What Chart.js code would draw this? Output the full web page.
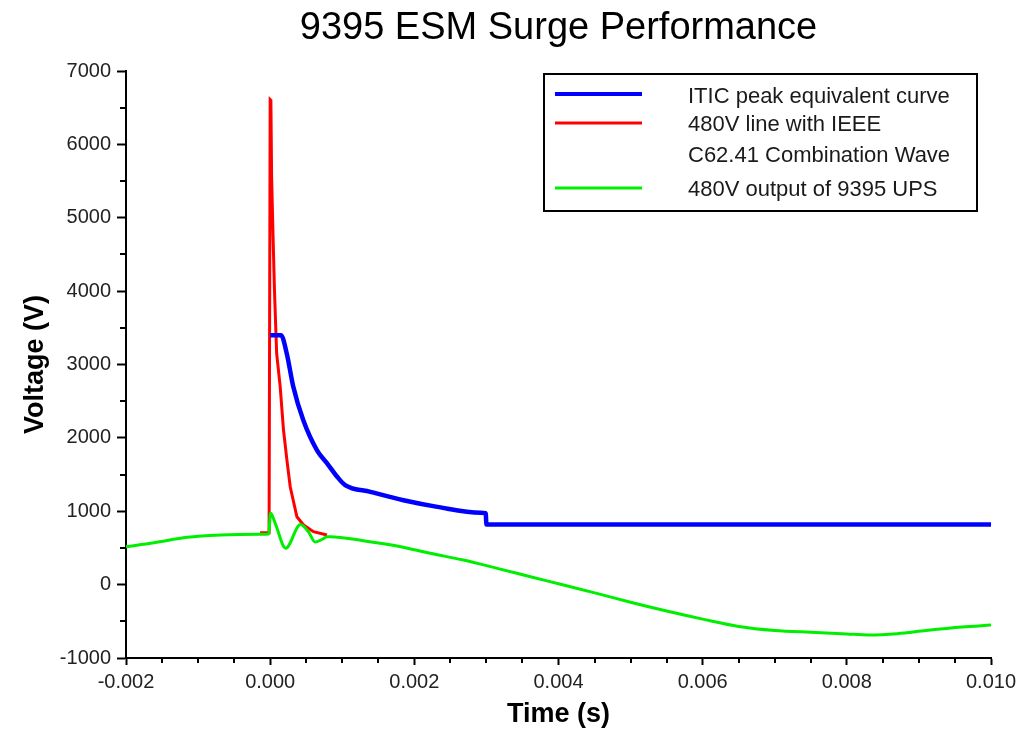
<!DOCTYPE html>
<html>
<head>
<meta charset="utf-8">
<script src="https://cdn.jsdelivr.net/npm/chart.js@4.4.1/dist/chart.umd.min.js"></script>
<style>
  html, body { margin: 0; padding: 0; background: #fff; }
  #wrap { width: 1017px; height: 731px; }
</style>
</head>
<body>
<div id="wrap"><canvas id="surgeChart" width="1017" height="731"></canvas></div>
<script>
// ITIC peak equivalent curve (time s, voltage V)
const iticTime = [0, 0.00015, 0.00023, 0.00032, 0.00046, 0.00065, 0.00080, 0.00093, 0.00104, 0.00139, 0.00185, 0.00232, 0.00292, 0.00299, 0.00300, 0.0100];
const iticVolt = [3400, 3400, 3150, 2700, 2240, 1830, 1640, 1470, 1357, 1265, 1150, 1060, 980, 975, 820, 820];

// 480V line with IEEE C62.41 combination wave
const surgeTime = [-0.00014, -0.000015, 0, 0.00001, 0.00002, 0.00004, 0.00006, 0.00009, 0.000139, 0.000185, 0.000232, 0.000278, 0.000371, 0.000463, 0.000601, 0.000788];
const surgeVolt = [708, 708, 6610, 6600, 5560, 4750, 4000, 3150, 2700, 2107, 1700, 1334, 925, 812, 721, 676];

// 480V output of 9395 UPS
const upsTime = [-0.002, -0.00161, -0.00115, -0.00069, -0.00014, -0.00002, 0.000005, 0.00007, 0.000215, 0.00042, 0.00053, 0.000625, 0.00072, 0.00079, 0.00083, 0.00129, 0.00176, 0.00222, 0.00268, 0.00315, 0.00361, 0.00407, 0.00453, 0.0050, 0.0055, 0.0060, 0.0065, 0.0070, 0.0075, 0.0080, 0.0083, 0.0087, 0.0091, 0.0096, 0.0100];
const upsVolt = [517, 571, 645, 676, 686, 690, 975, 835, 495, 820, 721, 580, 617, 653, 653, 599, 526, 427, 335, 222, 108, -5, -119, -240, -360, -470, -570, -625, -650, -672, -685, -668, -625, -578, -550];

const legendLines = [
  ["ITIC peak equivalent curve"],
  ["480V line with IEEE", "C62.41 Combination Wave"],
  ["480V output of 9395 UPS"]
];

const FONT = "'Liberation Sans', Arial, sans-serif";

const toPoints = (xs, ys) => xs.map((x, i) => ({ x: x, y: ys[i] }));

// minor tick marks + boxed legend
const extras = {
  id: 'extras',
  afterDraw(chart) {
    const ctx = chart.ctx;
    const xs = chart.scales.x, ys = chart.scales.y;
    const area = chart.chartArea;
    ctx.save();
    ctx.strokeStyle = '#000';
    ctx.lineWidth = 2;
    ctx.beginPath();
    for (let i = 0; i <= 24; i++) {
      if (i % 4 === 0) continue;
      const px = Math.round(xs.getPixelForValue(-0.002 + i * 0.0005));
      ctx.moveTo(px, area.bottom);
      ctx.lineTo(px, area.bottom + 5);
    }
    for (let i = 0; i <= 16; i++) {
      if (i % 2 === 0) continue;
      const py = Math.round(ys.getPixelForValue(-1000 + i * 500));
      ctx.moveTo(area.left - 6, py);
      ctx.lineTo(area.left, py);
    }
    ctx.stroke();

    // legend box
    const bx = 544, by = 74, bw = 433, bh = 137;
    ctx.fillStyle = '#fff';
    ctx.fillRect(bx, by, bw, bh);
    ctx.strokeRect(bx, by, bw, bh);
    const rows = [
      { line: 94, text: [97] },
      { line: 123, text: [125, 156] },
      { line: 188, text: [190] }
    ];
    ctx.font = '22px ' + FONT;
    ctx.textBaseline = 'middle';
    ctx.textAlign = 'left';
    rows.forEach((r, i) => {
      const ds = chart.data.datasets[i];
      ctx.strokeStyle = ds.borderColor;
      ctx.lineWidth = i === 0 ? 4 : 3;
      ctx.beginPath();
      ctx.moveTo(555, r.line);
      ctx.lineTo(642, r.line);
      ctx.stroke();
      ctx.fillStyle = '#1a1a1a';
      legendLines[i].forEach((t, j) => ctx.fillText(t, 688, r.text[j]));
    });
    ctx.restore();
  }
};

new Chart(document.getElementById('surgeChart').getContext('2d'), {
  type: 'line',
  data: {
    datasets: [
      {
        label: legendLines[0].join(' '),
        data: toPoints(iticTime, iticVolt),
        borderColor: '#0000ff',
        borderWidth: 4.5,
        cubicInterpolationMode: 'monotone',
        order: 2
      },
      {
        label: legendLines[1].join(' '),
        data: toPoints(surgeTime, surgeVolt),
        borderColor: '#ff0000',
        borderWidth: 3,
        order: 3
      },
      {
        label: legendLines[2].join(' '),
        data: toPoints(upsTime, upsVolt),
        borderColor: '#00ee00',
        borderWidth: 3,
        cubicInterpolationMode: 'monotone',
        order: 1
      }
    ]
  },
  options: {
    responsive: false,
    animation: false,
    devicePixelRatio: 1,
    elements: {
      point: { radius: 0 },
      line: { tension: 0 }
    },
    layout: { padding: { left: 0, right: 26, top: 0, bottom: 0 } },
    plugins: {
      legend: { display: false },
      tooltip: { enabled: false },
      title: {
        display: true,
        fullSize: false,
        text: '9395 ESM Surge Performance',
        color: '#000',
        font: { family: FONT, size: 38, weight: 'normal' },
        padding: { top: 6, bottom: 19.4 }
      }
    },
    scales: {
      x: {
        type: 'linear',
        min: -0.002,
        max: 0.010,
        afterFit: (s) => { s.height = 73; s.paddingLeft = 0; s.paddingRight = 0; },
        border: { display: true, color: '#000', width: 2 },
        grid: { display: true, drawOnChartArea: false, drawTicks: true, tickLength: 7, tickColor: '#000', tickWidth: 2 },
        ticks: {
          stepSize: 0.002,
          autoSkip: false,
          maxRotation: 0,
          padding: 5,
          color: '#222',
          font: { family: FONT, size: 20 },
          callback: (v) => Number(v).toFixed(3)
        },
        title: {
          display: true,
          text: 'Time (s)',
          color: '#000',
          font: { family: FONT, size: 27, weight: 'bold' },
          padding: { top: 0, bottom: 0 }
        }
      },
      y: {
        min: -1000,
        max: 7000,
        afterFit: (s) => { s.width = 126; },
        border: { display: true, color: '#000', width: 2 },
        grid: { display: true, drawOnChartArea: false, drawTicks: true, tickLength: 9, tickColor: '#000', tickWidth: 2 },
        ticks: {
          stepSize: 1000,
          padding: 6,
          color: '#222',
          font: { family: FONT, size: 20 },
          callback: (v) => String(v)
        },
        title: {
          display: true,
          text: 'Voltage (V)',
          color: '#000',
          font: { family: FONT, size: 27, weight: 'bold' },
          padding: { top: 19, bottom: 0 }
        }
      }
    }
  },
  plugins: [extras]
});
</script>
</body>
</html>
